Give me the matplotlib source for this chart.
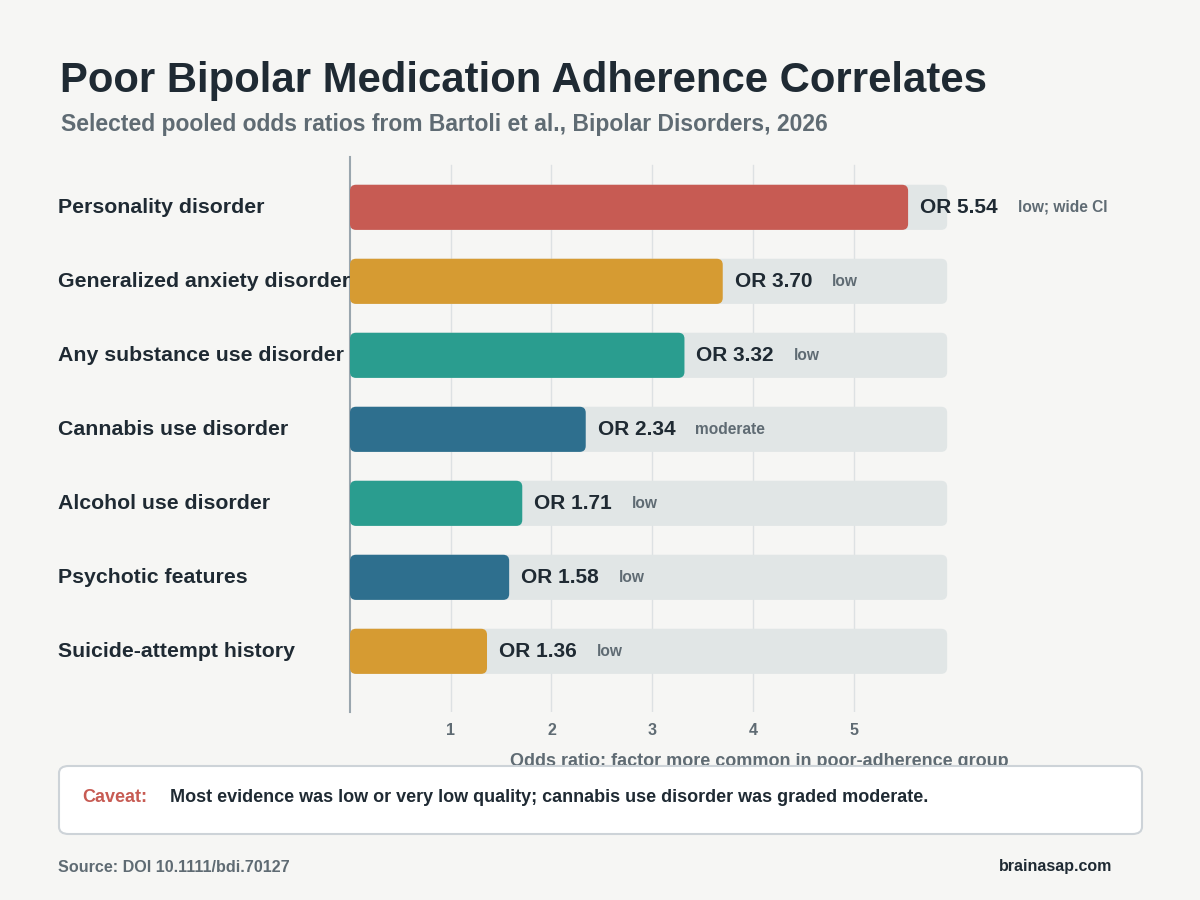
import matplotlib
matplotlib.use("Agg")
import matplotlib.pyplot as plt
from matplotlib.patches import FancyBboxPatch
from matplotlib import transforms

plt.rcParams['font.family'] = ['Liberation Sans', 'DejaVu Sans']
plt.rcParams['font.weight'] = 'bold'

categories = ["Personality disorder", "Generalized anxiety disorder", "Any substance use disorder",
              "Cannabis use disorder", "Alcohol use disorder", "Psychotic features",
              "Suicide-attempt history"]
odds_ratios = [5.54, 3.70, 3.32, 2.34, 1.71, 1.58, 1.36]
quality = ["low; wide CI", "low", "low", "moderate", "low", "low", "low"]
colors = ["#C75B53", "#D69B32", "#2A9D8F", "#2E6F8E", "#2A9D8F", "#2E6F8E", "#D69B32"]
xticks = [1, 2, 3, 4, 5]

BG = "#F6F6F4"
DARK = "#1F2A33"
GRAY = "#5F6B73"
TRACK = "#E1E6E6"

fig = plt.figure(figsize=(12, 9), dpi=100, facecolor=BG)
ax = fig.add_axes([350/1200, 1-712/900, (1168-350)/1200, (712-157)/900])
ax.set_facecolor(BG)
track_max = max(odds_ratios) * 1.07
ax.set_xlim(0, 8.12)
ax.set_ylim(len(categories) - 0.18, -0.68)

bh = 0.61
rs = 0.06
asp = (6/74) / 0.06
for i, (v, c) in enumerate(zip(odds_ratios, colors)):
    ax.add_patch(FancyBboxPatch((0, i - bh/2), track_max, bh,
                                boxstyle=f"round,pad=0,rounding_size={rs}",
                                mutation_aspect=asp, fc=TRACK, ec='none', zorder=2))
    ax.add_patch(FancyBboxPatch((0, i - bh/2), v, bh,
                                boxstyle=f"round,pad=0,rounding_size={rs}",
                                mutation_aspect=asp, fc=c, ec='none', zorder=3))
    t = ax.annotate(f"OR {v:.2f}", xy=(v, i), xytext=(12, 0), textcoords='offset pixels',
                    ha='left', va='center', fontsize=15, color=DARK, fontweight='bold', zorder=4)
    ax.annotate(quality[i], xy=(1, 0.5), xycoords=t, xytext=(20, 0), textcoords='offset pixels',
                ha='left', va='center', fontsize=11.2, color=GRAY, fontweight='bold', zorder=4)

blend = transforms.blended_transform_factory(fig.transFigure, ax.transData)
for i, cat in enumerate(categories):
    ax.text(58/1200, i, cat, transform=blend, ha='left', va='center', fontsize=15.3,
            color=DARK, fontweight='bold')

for x in xticks:
    ax.axvline(x, ymin=0, ymax=(712-165)/(712-157), color="#DDE1E3", lw=1, zorder=1)

ax.set_xticks(xticks)
ax.set_xticklabels([str(x) for x in xticks], fontsize=11.5, color=GRAY, fontweight='bold')
ax.tick_params(axis='x', length=0, pad=8)
ax.set_yticks([])
for s in ['top', 'right', 'bottom']:
    ax.spines[s].set_visible(False)
ax.spines['left'].set_color("#9AA6AE")
ax.spines['left'].set_linewidth(1.5)
ax.set_xlabel("Odds ratio: factor more common in poor-adherence group", fontsize=13,
              color=GRAY, fontweight='bold', labelpad=11)

fig.text(60/1200, 1-92/900, "Poor Bipolar Medication Adherence Correlates", fontsize=30.2,
         fontweight='bold', color=DARK, ha='left', va='baseline')
fig.text(61/1200, 1-131/900, "Selected pooled odds ratios from Bartoli et al., Bipolar Disorders, 2026",
         fontsize=16.5, fontweight='bold', color=GRAY, ha='left', va='baseline')

box = FancyBboxPatch((59/1200, 1-834/900), (1142-59)/1200, (834-766)/900,
                     boxstyle="round,pad=0,rounding_size=0.008", transform=fig.transFigure,
                     fc='white', ec="#CDD3D8", lw=1.5, zorder=5)
fig.add_artist(box)
fig.text(82/1200, 1-797/900, "Caveat:", fontsize=13, fontweight='bold', color="#C75B53",
         ha='left', va='center', zorder=6)
fig.text(170/1200, 1-797/900,
         "Most evidence was low or very low quality; cannabis use disorder was graded moderate.",
         fontsize=13, fontweight='bold', color=DARK, ha='left', va='center', zorder=6)

fig.text(58/1200, 1-867/900, "Source: DOI 10.1111/bdi.70127", fontsize=11.6, fontweight='bold',
         color=GRAY, ha='left', va='center')
fig.text(1112/1200, 1-867/900, "brainasap.com", fontsize=11.5, fontweight='bold',
         color=DARK, ha='right', va='center')

fig.savefig("out.png", dpi=100, facecolor=BG)
